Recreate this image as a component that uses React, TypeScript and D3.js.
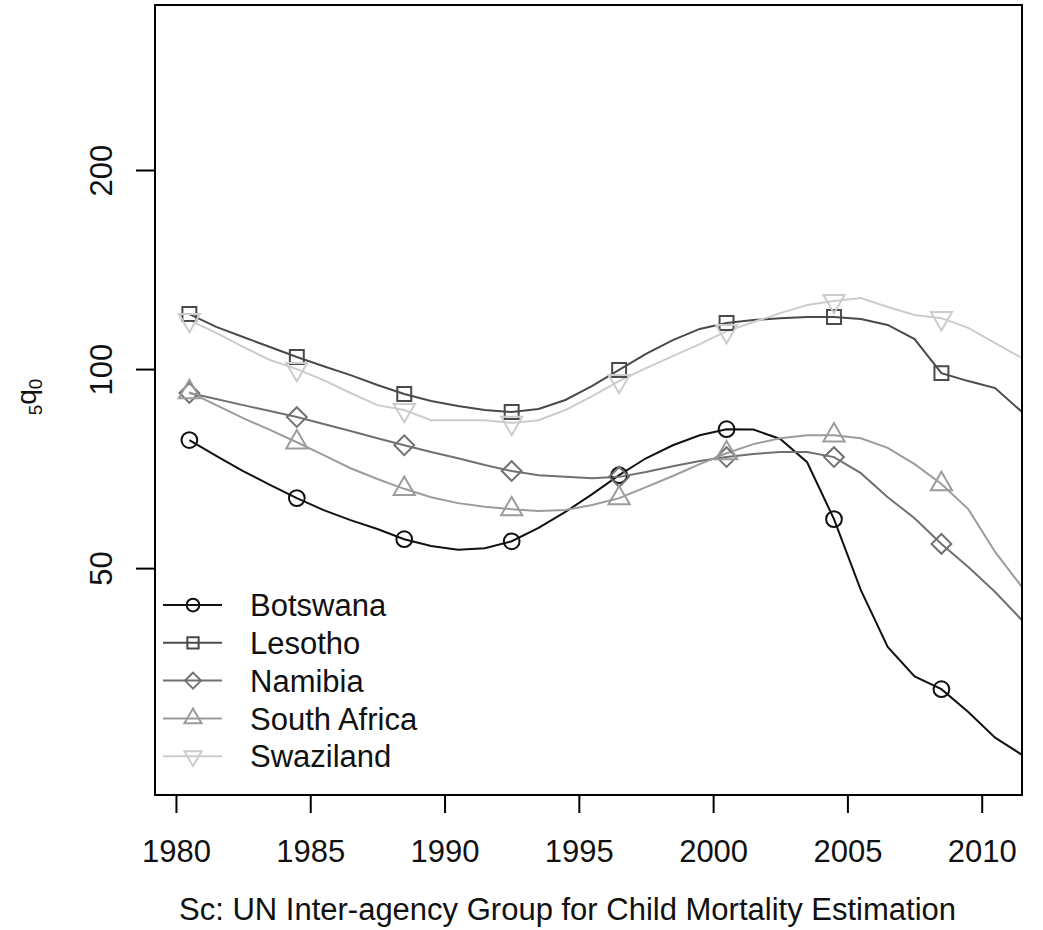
import React, { useRef, useEffect } from "react";
import * as d3 from "d3";

// mid-year estimates, under-five mortality (per 1000)
const years = [
  1980.5, 1981.5, 1982.5, 1983.5, 1984.5, 1985.5, 1986.5, 1987.5, 1988.5, 1989.5, 1990.5,
  1991.5, 1992.5, 1993.5, 1994.5, 1995.5, 1996.5, 1997.5, 1998.5, 1999.5, 2000.5, 2001.5,
  2002.5, 2003.5, 2004.5, 2005.5, 2006.5, 2007.5, 2008.5, 2009.5, 2010.5, 2011.5,
];

const botswana = [
  78.1, 73.9, 70.1, 66.8, 63.8, 61.2, 59.1, 57.3, 55.3, 54.0, 53.3, 53.6, 54.9, 57.5, 60.8, 64.7,
  69.1, 73.3, 76.7, 79.4, 81.1, 81.0, 78.4, 72.3, 59.3, 46.3, 38.0, 34.3, 32.8, 30.3, 27.7, 26.1,
];
const lesotho = [
  121.1, 115.8, 111.8, 108.0, 104.3, 101.0, 97.9, 94.6, 91.7, 89.5, 87.9, 86.7, 86.1, 87.0, 89.8,
  94.3, 99.7, 105.4, 110.6, 115.0, 117.4, 118.6, 119.4, 119.9, 119.9, 119.0, 116.6, 111.0, 98.6,
  95.9, 93.6, 86.1,
];
const namibia = [
  92.0, 90.1, 88.2, 86.4, 84.6, 82.6, 80.6, 78.6, 76.7, 74.9, 73.3, 71.6, 70.1, 69.1, 68.7, 68.4,
  68.7, 69.9, 71.3, 72.6, 73.6, 74.4, 74.9, 74.9, 73.6, 69.6, 64.0, 59.5, 54.4, 50.2, 46.0, 41.7,
];
const southAfrica = [
  92.3, 88.2, 84.3, 80.9, 77.5, 74.1, 70.8, 68.2, 65.9, 64.0, 62.7, 61.9, 61.4, 61.0, 61.2, 62.3,
  63.8, 66.3, 68.9, 71.8, 74.6, 77.0, 78.6, 79.4, 79.4, 78.6, 76.0, 71.8, 67.0, 61.4, 52.9, 46.8,
];
const swaziland = [
  118.6, 113.4, 108.0, 103.2, 100.0, 96.2, 92.0, 88.2, 86.7, 83.7, 83.7, 83.7, 82.9, 83.7, 86.7,
  91.0, 95.9, 100.3, 104.6, 109.1, 114.1, 117.8, 121.5, 125.0, 126.7, 128.1, 124.1, 120.7, 119.4,
  115.4, 109.5, 103.9,
];

const seriesNames = ["Botswana", "Lesotho", "Namibia", "South Africa", "Swaziland"];
const seriesValues = [botswana, lesotho, namibia, southAfrica, swaziland];
const seriesColors = ["#111111", "#4a4a4a", "#707070", "#9c9c9c", "#cccccc"];
const seriesSymbols = ["circle", "square", "diamond", "triangle", "triangleDown"];

const xTicks = [1980, 1985, 1990, 1995, 2000, 2005, 2010];
const yTicks = [50, 100, 200];

const caption = "Sc: UN Inter-agency Group for Child Mortality Estimation";

const W = 1043;
const H = 930;
const FONT = "'Liberation Sans', Arial, Helvetica, sans-serif";

// R-like open plotting symbols, size s
const drawSymbol = (g, kind, cx, cy, s, color) => {
  if (kind === "circle") {
    g.append("circle")
      .attr("cx", cx)
      .attr("cy", cy)
      .attr("r", 0.375 * s)
      .attr("fill", "none")
      .attr("stroke", color)
      .attr("stroke-width", 2);
    return;
  }
  let pts;
  if (kind === "square") {
    const h = 0.332 * s;
    pts = [[-h, -h], [h, -h], [h, h], [-h, h]];
  } else if (kind === "diamond") {
    const h = 0.47 * s;
    pts = [[0, -h], [h, 0], [0, h], [-h, 0]];
  } else {
    const r = 0.583 * s;
    const xc = 0.505 * s;
    const yc = 0.292 * s;
    const f = kind === "triangle" ? 1 : -1;
    pts = [[0, -r * f], [xc, yc * f], [-xc, yc * f]];
  }
  g.append("polygon")
    .attr("points", pts.map((p) => `${cx + p[0]},${cy + p[1]}`).join(" "))
    .attr("fill", "none")
    .attr("stroke", color)
    .attr("stroke-width", 2)
    .attr("stroke-linejoin", "miter");
};

const MortalityChart = () => {
  const svgRef = useRef(null);

  useEffect(() => {
    const svg = d3.select(svgRef.current);
    svg.selectAll("*").remove();

    const box = { left: 155, top: 5, right: 1022, bottom: 795 };

    const x = d3.scaleLinear().domain([1979.22, 2011.5]).range([box.left, box.right]);
    const y = d3.scaleLog().domain([22.69, 355.3]).range([box.bottom, box.top]);

    svg.append("rect").attr("width", W).attr("height", H).attr("fill", "#ffffff");

    // series lines
    const line = d3
      .line()
      .x((d) => x(d[0]))
      .y((d) => y(d[1]));

    seriesValues.forEach((vals, i) => {
      const pts = years.map((yr, j) => [yr, vals[j]]);
      svg.append("path")
        .attr("d", line(pts))
        .attr("fill", "none")
        .attr("stroke", seriesColors[i])
        .attr("stroke-width", 2);
    });

    // markers every 4 years
    seriesValues.forEach((vals, i) => {
      const g = svg.append("g");
      years.forEach((yr, j) => {
        if (j % 4 !== 0) return;
        drawSymbol(g, seriesSymbols[i], x(yr), y(vals[j]), 21, seriesColors[i]);
      });
    });

    // box
    svg.append("rect")
      .attr("x", box.left)
      .attr("y", box.top)
      .attr("width", box.right - box.left)
      .attr("height", box.bottom - box.top)
      .attr("fill", "none")
      .attr("stroke", "#000")
      .attr("stroke-width", 2);

    // x axis
    const xa = svg.append("g").attr("transform", `translate(0,${box.bottom})`);
    xa.call(d3.axisBottom(x).tickValues(xTicks).tickSize(18).tickPadding(24).tickFormat(d3.format("d")));
    xa.select(".domain").remove();
    xa.selectAll(".tick line").attr("stroke", "#000").attr("stroke-width", 2);
    xa.selectAll(".tick text")
      .attr("font-family", FONT)
      .attr("font-size", 31)
      .attr("fill", "#111")
      .attr("dy", null)
      .attr("y", 67);

    // y axis
    const ya = svg.append("g").attr("transform", `translate(${box.left},0)`);
    ya.call(d3.axisLeft(y).tickValues(yTicks).tickSize(19).tickFormat(d3.format("d")));
    ya.select(".domain").remove();
    ya.selectAll(".tick line").attr("stroke", "#000").attr("stroke-width", 2);
    ya.selectAll(".tick text")
      .attr("font-family", FONT)
      .attr("font-size", 31)
      .attr("fill", "#111")
      .attr("x", null)
      .attr("dy", null)
      .attr("text-anchor", "middle")
      .attr("transform", "translate(-43,0) rotate(-90)");

    // y label: 5q0
    const yl = svg.append("text")
      .attr("transform", `translate(36,397) rotate(-90)`)
      .attr("text-anchor", "middle")
      .attr("font-family", FONT)
      .attr("fill", "#111");
    yl.append("tspan").attr("font-size", 19).attr("dy", 6).text("5");
    yl.append("tspan").attr("font-size", 28).attr("dy", -6).text("q");
    yl.append("tspan").attr("font-size", 19).attr("dy", 6).text("0");

    // caption
    svg.append("text")
      .attr("x", 567.5)
      .attr("y", 920)
      .attr("text-anchor", "middle")
      .attr("font-family", FONT)
      .attr("font-size", 31)
      .attr("fill", "#111")
      .text(caption);

    // legend
    const legend = svg.append("g");
    seriesNames.forEach((name, i) => {
      const ly = 605 + i * 37.8;
      legend.append("line")
        .attr("x1", 163)
        .attr("x2", 222)
        .attr("y1", ly)
        .attr("y2", ly)
        .attr("stroke", seriesColors[i])
        .attr("stroke-width", 2);
      drawSymbol(legend, seriesSymbols[i], 193, ly, 17, seriesColors[i]);
      legend.append("text")
        .attr("x", 250)
        .attr("y", ly)
        .attr("dy", "0.36em")
        .attr("font-family", FONT)
        .attr("font-size", 31)
        .attr("fill", "#111")
        .text(name);
    });
  }, []);

  return (
    <svg
      ref={svgRef}
      width={W}
      height={H}
      style={{ position: "absolute", left: 0, top: 0, display: "block" }}
    />
  );
};

export default function App() {
  return <MortalityChart />;
}
